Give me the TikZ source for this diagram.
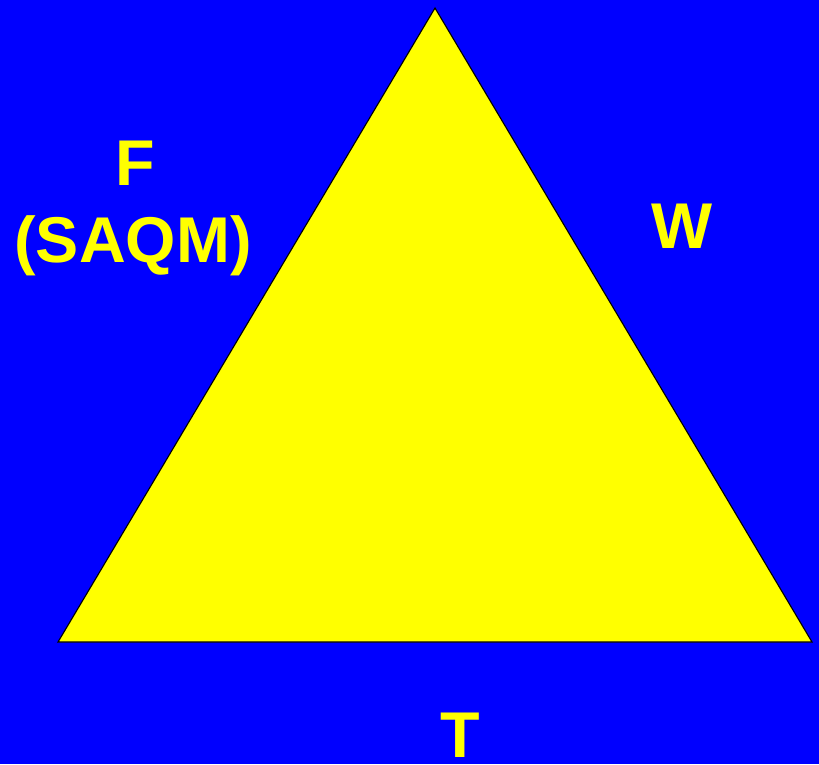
\documentclass[tikz,border=0pt]{standalone}
\usepackage{fontspec}
\setmainfont{Liberation Sans}
\definecolor{bgblue}{RGB}{0,0,255}
\definecolor{triyellow}{RGB}{255,255,0}
\tikzset{
  sidelabel/.style={text=triyellow,font=\fontsize{46}{55}\selectfont\bfseries,anchor=base,inner sep=0pt},
  tri/.style={fill=triyellow,draw=black,line width=0.8pt,line join=miter}
}

\begin{document}
\begin{tikzpicture}[x=0.025cm,y=-0.025cm]
\fill[bgblue] (0,0) rectangle (819,764);
\useasboundingbox (0,0) rectangle (819,764);

\coordinate (top) at (435,8);
\coordinate (bl) at (58,642);
\coordinate (br) at (812,642);
\draw[tri] (top)--(bl)--(br)--cycle;

\node[sidelabel] (f) at (135,185) {F};
\node[sidelabel] (saqm) at (133,262) {(SAQM)};
\node[sidelabel] (w) at (682,248) {W};
\node[sidelabel] (t) at (460,757) {T};
\end{tikzpicture}
\end{document}
